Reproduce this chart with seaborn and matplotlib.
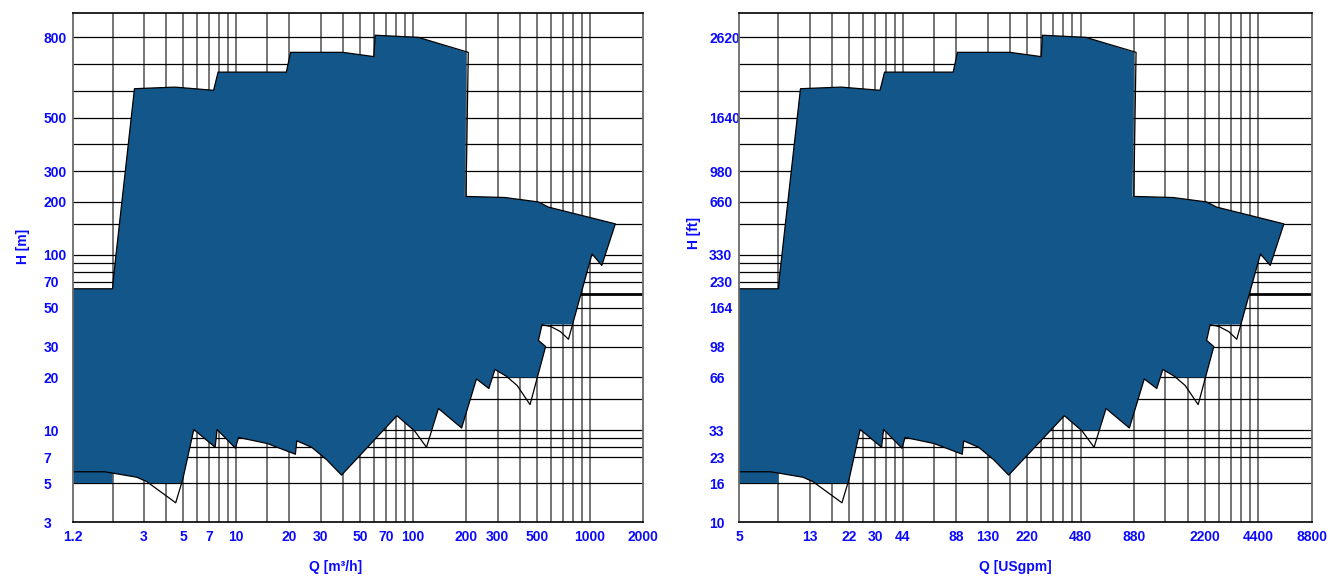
import numpy as np
import matplotlib
matplotlib.use("Agg")
import matplotlib.pyplot as plt
from matplotlib.ticker import NullLocator
import seaborn as sns

sns.set_theme(style="white")
plt.rcParams["font.family"] = ["Liberation Sans", "DejaVu Sans"]

# ---------------- data (metric units: Q in m3/h, H in m) ----------------
outline_q = [1.2, 2.0, 2.03, 2.66, 4.5, 7.45, 7.9, 19.2, 20.3, 40, 60, 61, 107, 205, 199,
             330, 511, 581, 1390, 1165, 1026, 755, 680, 600, 535, 511, 561, 458, 387, 337,
             290, 268, 228, 188, 139, 119, 102, 81, 39.4, 32.4, 26.7, 22.0, 21.6, 15.0,
             10.3, 9.9, 7.8, 7.6, 5.76, 5.0, 4.55, 3.12, 2.74, 2.0, 1.8, 1.2, 1.2]
outline_h = [64, 64, 76, 608, 614, 602, 670, 670, 744, 744, 728, 808, 800, 744, 215,
             212, 200, 187, 150, 87, 101, 33, 36.5, 39, 40, 32.5, 30, 14, 18, 20.3,
             22.2, 17.3, 19.6, 10.3, 13.3, 8.0, 9.9, 12.1, 5.55, 6.8, 8.0, 8.7, 7.3, 8.4,
             9.1, 7.9, 10.1, 8.0, 10.1, 5.3, 3.86, 5.1, 5.4, 5.7, 5.8, 5.8, 64]

fill_q = [1.2, 2.0, 2.03, 2.66, 4.5, 7.45, 7.9, 19.2, 20.3, 40, 60, 61, 107, 200, 196,
          330, 511, 581, 1390, 1165, 1026, 796, 535, 511, 561, 503, 343, 290, 268, 228,
          188, 139, 127, 101, 81, 39.4, 32.4, 26.7, 22.0, 21.6, 15.0, 10.3, 9.9, 7.8,
          7.6, 5.76, 5.0, 4.93, 3.2, 3.12, 2.74, 2.0, 2.0, 1.2]
fill_h = [64, 64, 76, 608, 614, 602, 670, 670, 744, 744, 728, 808, 800, 744, 215,
          212, 200, 187, 150, 87, 101, 40, 40, 32.5, 30, 20, 20, 22.2, 17.3, 19.6,
          10.3, 13.3, 10, 10, 12.1, 5.55, 6.8, 8.0, 8.7, 7.3, 8.4, 9.1, 7.9, 10.1,
          8.0, 10.1, 5.3, 5, 5, 5.1, 5.4, 5.7, 5, 5]

grid_q = [2, 3, 4, 5, 6, 7, 8, 9, 10, 15, 20, 30, 40, 50, 60, 70, 80, 90, 100,
          200, 300, 400, 500, 600, 700, 800, 900, 1000]
grid_h = [5, 7, 8, 9, 10, 15, 20, 30, 40, 50, 60, 70, 80, 90, 100, 150, 200,
          300, 400, 500, 600, 700, 800]

xtick_m = [1.2, 3, 5, 7, 10, 20, 30, 50, 70, 100, 200, 300, 500, 1000, 2000]
xtick_labels_m = ["1.2", "3", "5", "7", "10", "20", "30", "50", "70", "100", "200",
                  "300", "500", "1000", "2000"]
xtick_us_pos = [1.2, 3, 5, 7, 10, 20, 30, 50, 100, 200, 500, 1000, 2000]
xtick_labels_us = ["5", "13", "22", "30", "44", "88", "130", "220", "480", "880",
                   "2200", "4400", "8800"]
ytick_m = [3, 5, 7, 10, 20, 30, 50, 70, 100, 200, 300, 500, 800]
ytick_labels_m = ["3", "5", "7", "10", "20", "30", "50", "70", "100", "200", "300",
                  "500", "800"]
ytick_labels_ft = ["10", "16", "23", "33", "66", "98", "164", "230", "330", "660",
                   "980", "1640", "2620"]

Q_MIN, Q_MAX = 1.2, 2000
H_MIN, H_MAX = 3, 890
GPM_PER_M3H = 4.4
FT_PER_M = 3.28

# vertical axis: logarithmic up to 300 m, linear above
H_BREAK = 300.0
LIN_SLOPE = 0.0015237

FILL = "#135689"
BLUE = "#0a0aff"


def make_hscale(f):
    b = H_BREAK * f
    s = LIN_SLOPE / f
    lb = np.log10(b)

    def fwd(h):
        h = np.clip(np.asarray(h, dtype=float), 1e-9, None)
        return np.where(h <= b, np.log10(h), lb + (h - b) * s)

    def inv(v):
        v = np.asarray(v, dtype=float)
        return np.where(v <= lb, np.power(10.0, np.minimum(v, lb)), b + (v - lb) / s)

    return fwd, inv


def draw_panel(ax, qf, hf, xpos, xlabels, ylabels, xlabel, ylabel, xl_coords, yl_coords):
    qo = np.array(outline_q) * qf
    ho = np.array(outline_h) * hf
    qfill = np.array(fill_q) * qf
    hfill = np.array(fill_h) * hf

    ax.set_xscale("log")
    ax.set_yscale("function", functions=make_hscale(hf))
    ax.set_axisbelow(True)

    for q in grid_q:
        ax.axvline(q * qf, color="#6a6a6a", lw=1.3, zorder=0.5)
    for h in grid_h:
        ax.axhline(h * hf, color="black", lw=2.0 if h == 60 else 0.9, zorder=0.6)

    ax.fill(qfill, hfill, color=FILL, lw=0, zorder=2)
    sns.lineplot(x=qo, y=ho, sort=False, estimator=None, color="black", lw=0.9,
                 ax=ax, zorder=3)

    ax.set_xlim(Q_MIN * qf, Q_MAX * qf)
    ax.set_ylim(H_MIN * hf, H_MAX * hf)

    ax.set_xticks(np.array(xpos) * qf)
    ax.set_xticklabels(xlabels)
    ax.set_yticks(np.array(ytick_m) * hf)
    ax.set_yticklabels(ylabels)
    ax.xaxis.set_minor_locator(NullLocator())
    ax.yaxis.set_minor_locator(NullLocator())

    ax.tick_params(axis="both", length=0, labelsize=10, labelcolor=BLUE)
    ax.tick_params(axis="x", pad=5.8)
    ax.tick_params(axis="y", pad=21.6)
    for t in ax.get_xticklabels() + ax.get_yticklabels():
        t.set_fontweight("bold")
    for t in ax.get_yticklabels():
        t.set_horizontalalignment("left")

    for side in ["left", "right"]:
        ax.spines[side].set_color("#6a6a6a")
        ax.spines[side].set_linewidth(1.3)
    for side in ["top", "bottom"]:
        ax.spines[side].set_color("black")
        ax.spines[side].set_linewidth(1.2)
    for sp in ax.spines.values():
        sp.set_zorder(4)

    ax.set_xlabel(xlabel, fontsize=10, fontweight="bold", color=BLUE)
    ax.set_ylabel(ylabel, fontsize=10, fontweight="bold", color=BLUE,
                  va="center", ha="center")
    ax.xaxis.set_label_coords(*xl_coords)
    ax.yaxis.set_label_coords(*yl_coords)


fig = plt.figure(figsize=(13.43, 5.84), dpi=100)
fig.patch.set_facecolor("white")
ax1 = fig.add_axes([73.3 / 1343, 1 - 522 / 584, 570 / 1343, 508.7 / 584])
ax2 = fig.add_axes([739 / 1343, 1 - 522 / 584, 573 / 1343, 508.7 / 584])

draw_panel(ax1, 1.0, 1.0, xtick_m, xtick_labels_m, ytick_labels_m,
           "Q [m³/h]", "H [m]", (0.460, -0.075), (-0.089, 0.541))
draw_panel(ax2, GPM_PER_M3H, FT_PER_M, xtick_us_pos, xtick_labels_us, ytick_labels_ft,
           "Q [USgpm]", "H [ft]", (0.482, -0.075), (-0.0785, 0.569))

fig.savefig("out.png", dpi=100, facecolor="white")
